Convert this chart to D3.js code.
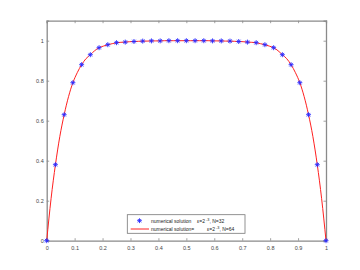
<!DOCTYPE html>
<html>
<head>
<meta charset="utf-8">
<script src="https://cdn.jsdelivr.net/npm/d3@7"></script>
<style>
  body { margin: 0; background: #fff; }
  text { font-family: "Liberation Sans", Arial, sans-serif; }
</style>
</head>
<body>
<div id="container"></div>
<script>
// values
let coarseY = [0, 0.38, 0.63, 0.79, 0.88, 0.93, 0.965, 0.98, 0.99, 0.993, 0.996, 0.998, 0.999,
  0.999, 1, 1, 1, 1, 1, 0.999, 0.999, 0.998, 0.996, 0.993, 0.99, 0.98, 0.965, 0.93,
  0.88, 0.79, 0.63, 0.38, 0];
let fineY = [0, 0.21, 0.38, 0.52, 0.63, 0.72, 0.79, 0.84, 0.88, 0.91, 0.93, 0.95, 0.965,
  0.973, 0.98, 0.985, 0.99, 0.992, 0.993, 0.995, 0.996, 0.997, 0.998, 0.998, 0.999,
  0.999, 0.999, 1, 1, 1, 1, 1, 1, 1, 1, 1, 1, 1, 0.999, 0.999, 0.999, 0.998, 0.998,
  0.997, 0.996, 0.995, 0.993, 0.992, 0.99, 0.985, 0.98, 0.973, 0.965, 0.95, 0.93,
  0.91, 0.88, 0.84, 0.79, 0.72, 0.63, 0.52, 0.38, 0.21, 0];
let xTicks = [0, 0.1, 0.2, 0.3, 0.4, 0.5, 0.6, 0.7, 0.8, 0.9, 1];
let yTicks = [0, 0.2, 0.4, 0.6, 0.8, 1];

let w = 360;
let h = 270;

let viz = d3.select("#container")
  .append("svg")
    .attr("width", w)
    .attr("height", h)
;

let xScale = d3.scaleLinear().domain([0, 1]).range([46.7, 326]);
let yScale = d3.scaleLinear().domain([0, 1.1]).range([240.7, 20.7]);

let coarse = coarseY.map(function(v, i){ return {x: i / (coarseY.length - 1), y: v}; });
let fine = fineY.map(function(v, i){ return {x: i / (fineY.length - 1), y: v}; });

let axisColor = "#8a8a8a";

// axes with inward ticks, MATLAB style box
let xAxis = d3.axisBottom(xScale).tickValues(xTicks).tickSize(-2.5).tickPadding(5)
  .tickFormat(function(d){ return d3.format("")(d); });
let yAxis = d3.axisLeft(yScale).tickValues(yTicks).tickSize(-2.5).tickPadding(3)
  .tickFormat(function(d){ return d3.format("")(d); });

let xAxisGroup = viz.append("g").attr("transform", "translate(0," + yScale(0) + ")").call(xAxis);
let yAxisGroup = viz.append("g").attr("transform", "translate(" + xScale(0) + ",0)").call(yAxis);
let topAxis = viz.append("g").attr("transform", "translate(0," + yScale(1.1) + ")")
  .call(d3.axisTop(xScale).tickValues(xTicks).tickSize(-2.5).tickFormat(""));
let rightAxis = viz.append("g").attr("transform", "translate(" + xScale(1) + ",0)")
  .call(d3.axisRight(yScale).tickValues(yTicks).tickSize(-2.5).tickFormat(""));

[xAxisGroup, yAxisGroup, topAxis, rightAxis].forEach(function(g){
  g.select(".domain").attr("stroke", axisColor).attr("stroke-width", 1.3);
  g.selectAll(".tick line").attr("stroke", axisColor).attr("stroke-width", 0.8);
  g.selectAll("text").attr("fill", "#444").attr("font-size", 5.5)
    .style("font-family", "Liberation Sans, Arial, sans-serif");
});

// fine line
let line = d3.line()
  .x(function(d){ return xScale(d.x); })
  .y(function(d){ return yScale(d.y); })
  .curve(d3.curveMonotoneX);

viz.append("path")
  .datum(fine)
  .attr("d", line)
  .attr("fill", "none")
  .attr("stroke", "#ff2020")
  .attr("stroke-width", 1);

// star markers
function star(g, r){
  g.append("path")
    .attr("d", "M" + (-r) + ",0H" + r + "M0," + (-r) + "V" + r +
      "M" + (-r*0.7) + "," + (-r*0.7) + "L" + (r*0.7) + "," + (r*0.7) +
      "M" + (-r*0.7) + "," + (r*0.7) + "L" + (r*0.7) + "," + (-r*0.7))
    .attr("stroke", "#2a2aff")
    .attr("stroke-width", 0.9)
    .attr("fill", "none");
}

viz.append("g").selectAll(".datapoint").data(coarse).enter()
  .append("g")
    .classed("datapoint", true)
    .attr("transform", function(d){ return "translate(" + xScale(d.x) + "," + yScale(d.y) + ")"; })
    .each(function(){ star(d3.select(this), 2.5); });

// legend
let legend = viz.append("g");
legend.append("rect")
  .attr("x", 127.3).attr("y", 214.7).attr("width", 117.7).attr("height", 18.6)
  .attr("fill", "#fff").attr("stroke", "#777").attr("stroke-width", 0.8);

let row1 = legend.append("g").attr("transform", "translate(0,220.7)");
row1.append("g").attr("transform", "translate(139.5,0)").each(function(){ star(d3.select(this), 2.4); });
row1.append("text").attr("x", 151).attr("y", 1.8).attr("font-size", 5).attr("fill", "#222")
  .text("numerical solution");
let t1 = row1.append("text").attr("x", 197).attr("y", 1.8).attr("font-size", 5).attr("fill", "#222");
t1.append("tspan").text("\u03b5=2");
t1.append("tspan").attr("dy", -2).attr("font-size", 3.8).text(" -3");
t1.append("tspan").attr("dy", 2).text(", N=32");

let row2 = legend.append("g").attr("transform", "translate(0,229)");
row2.append("line").attr("x1", 130.7).attr("x2", 149).attr("y1", 0).attr("y2", 0)
  .attr("stroke", "#ff2020").attr("stroke-width", 1);
row2.append("text").attr("x", 151).attr("y", 1.8).attr("font-size", 5).attr("fill", "#222")
  .text("numerical solution=");
let t2 = row2.append("text").attr("x", 207).attr("y", 1.8).attr("font-size", 5).attr("fill", "#222");
t2.append("tspan").text("\u03b5=2");
t2.append("tspan").attr("dy", -2).attr("font-size", 3.8).text(" -3");
t2.append("tspan").attr("dy", 2).text(", N=64");
</script>
</body>
</html>
